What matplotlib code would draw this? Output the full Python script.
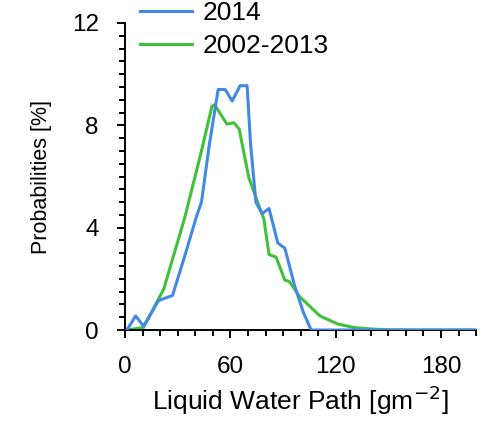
import matplotlib
matplotlib.use("Agg")
import matplotlib.pyplot as plt
from matplotlib.ticker import MultipleLocator

plt.rcParams['font.family'] = ['Liberation Sans', 'DejaVu Sans']

# 2014 curve
lwp_2014 = [1, 6, 10.5, 19, 27, 34, 40.5, 43.5, 48, 53, 57, 61, 65.5, 69.5, 71.5,
            74.5, 78, 82, 87, 91, 96.5, 101.5, 106, 150, 200]
prob_2014 = [0, 0.55, 0.15, 1.15, 1.35, 2.9, 4.4, 5.0, 7.25, 9.4, 9.4, 8.95, 9.55, 9.55, 7.25,
             5.0, 4.55, 4.75, 3.4, 3.2, 1.75, 0.7, 0, 0, 0]

# 2002-2013 climatology
lwp_clim = [1, 10.5, 22, 34, 43.5, 49.5, 51, 58, 62, 65, 70.5, 76, 79, 82, 86, 91, 93.5,
            99.5, 111, 121, 130, 140, 150, 160, 200]
prob_clim = [0, 0.1, 1.6, 4.4, 7.0, 8.75, 8.8, 8.05, 8.1, 7.85, 5.95, 4.9, 4.35, 2.95, 2.85,
             1.95, 1.9, 1.3, 0.55, 0.24, 0.1, 0.04, 0.01, 0, 0]

fig = plt.figure(figsize=(4.85, 4.22), dpi=100)
ax = fig.add_axes([0.258, 0.218, 0.7237, 0.7275])

ax.plot(lwp_2014, prob_2014, color='#4189e2', lw=2.2, label='2014', zorder=3)
ax.plot(lwp_clim, prob_clim, color='#41c03c', lw=2.2, label='2002-2013', zorder=2)

ax.set_xlim(0, 200)
ax.set_ylim(0, 12)
ax.xaxis.set_major_locator(MultipleLocator(60))
ax.xaxis.set_minor_locator(MultipleLocator(10))
ax.yaxis.set_major_locator(MultipleLocator(4))
ax.yaxis.set_minor_locator(MultipleLocator(0.5))

for s in ['top', 'right']:
    ax.spines[s].set_visible(False)
for s in ['left', 'bottom']:
    ax.spines[s].set_linewidth(1.4)

ax.tick_params(which='major', direction='out', length=6, width=1.4, labelsize=17.5)
ax.tick_params(axis='y', which='major', pad=13)
ax.tick_params(axis='x', which='major', pad=13)
ax.tick_params(which='minor', direction='out', length=4.5, width=1.4)

ax.set_xlabel('Liquid Water Path [gm$^{-2}$]', fontsize=19, labelpad=4)
ax.set_ylabel('Probabilities [%]', fontsize=15.5, labelpad=14)

fig.legend(loc='upper left', bbox_to_anchor=(140 / 485, 1 - 1 / 422), frameon=False,
           fontsize=19, handlelength=1.97, handletextpad=0.42, labelspacing=0.35,
           borderaxespad=0, borderpad=0)

fig.savefig('out.png', dpi=100)
